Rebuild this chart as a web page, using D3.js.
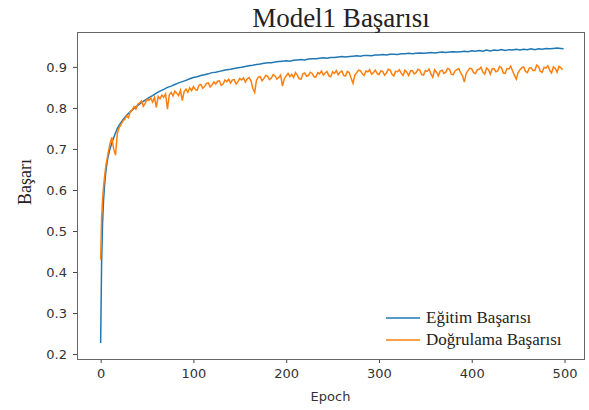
<!DOCTYPE html>
<html>
<head>
<meta charset="utf-8">
<script src="https://cdn.jsdelivr.net/npm/d3@7"></script>
<style>
  body { margin: 0; background: #fff; }
  .tick text { font-family: "DejaVu Sans", sans-serif; font-size: 13px; fill: #333; }
  .line { fill: none; stroke-width: 1.5px; }
</style>
</head>
<body>
<script>
// training curve (sampled every 4 epochs after warm-up)
const trainEpochs = [0, 1, 2, 3, 4, 5, 6, 7, 8, 10, 12, 14, 16, 18,
  20, 24, 28, 32, 36, 40, 44, 48, 52, 56, 60, 64, 68, 72, 76, 80, 84, 88, 92, 96,
  100, 104, 108, 112, 116, 120, 124, 128, 132, 136, 140, 144, 148, 152, 156, 160, 164, 168, 172, 176, 180, 184, 188, 192, 196,
  200, 204, 208, 212, 216, 220, 224, 228, 232, 236, 240, 244, 248, 252, 256, 260, 264, 268, 272, 276, 280, 284, 288, 292, 296,
  300, 304, 308, 312, 316, 320, 324, 328, 332, 336, 340, 344, 348, 352, 356, 360, 364, 368, 372, 376, 380, 384, 388, 392, 396,
  400, 404, 408, 412, 416, 420, 424, 428, 432, 436, 440, 444, 448, 452, 456, 460, 464, 468, 472, 476, 480, 484, 488, 492, 496, 499];

const trainAcc = [0.227, 0.42, 0.515, 0.57, 0.605, 0.632, 0.652, 0.668, 0.681, 0.700, 0.714, 0.727, 0.739, 0.750,
  0.758, 0.771, 0.782, 0.791, 0.799, 0.806, 0.813, 0.819, 0.825, 0.830, 0.836, 0.841, 0.845, 0.850, 0.853, 0.857, 0.861, 0.864, 0.867, 0.871,
  0.874, 0.876, 0.879, 0.881, 0.883, 0.886, 0.887, 0.889, 0.891, 0.893, 0.894, 0.896, 0.898, 0.899, 0.901, 0.903, 0.904, 0.906, 0.907, 0.909, 0.910, 0.910, 0.912, 0.913, 0.914,
  0.915, 0.914, 0.916, 0.917, 0.918, 0.917, 0.919, 0.920, 0.920, 0.921, 0.922, 0.921, 0.923, 0.923, 0.924, 0.925, 0.924, 0.925, 0.926, 0.927, 0.926, 0.928, 0.928, 0.927, 0.929,
  0.929, 0.930, 0.929, 0.931, 0.931, 0.930, 0.932, 0.932, 0.933, 0.932, 0.933, 0.934, 0.933, 0.934, 0.935, 0.934, 0.935, 0.936, 0.935, 0.936, 0.937, 0.936, 0.937, 0.938, 0.937,
  0.939, 0.938, 0.940, 0.938, 0.941, 0.939, 0.941, 0.940, 0.942, 0.940, 0.942, 0.941, 0.943, 0.941, 0.943, 0.942, 0.944, 0.942, 0.944, 0.943, 0.945, 0.944, 0.945, 0.946, 0.945, 0.944];

// validation curve (sampled every 2 epochs after warm-up)
const valEpochs = [0, 1, 2, 3, 4, 5, 6, 7, 8,
  10, 12, 14, 16, 18,
  20, 22, 24, 26, 28, 30, 32, 34, 36, 38, 40, 42, 44, 46, 48, 50, 52, 54, 56, 58,
  60, 62, 64, 66, 68, 70, 72, 74, 76, 78, 80, 82, 84, 86, 88, 90, 92, 94, 96, 98,
  100, 102, 104, 106, 108, 110, 112, 114, 116, 118, 120, 122, 124, 126, 128, 130, 132, 134, 136, 138,
  140, 142, 144, 146, 148, 150, 152, 154, 156, 158, 160, 162, 164, 166, 168, 170, 172, 174, 176, 178,
  180, 182, 184, 186, 188, 190, 192, 194, 196, 198, 200, 202, 204, 206, 208, 210, 212, 214, 216, 218,
  220, 222, 224, 226, 228, 230, 232, 234, 236, 238, 240, 242, 244, 246, 248, 250, 252, 254, 256, 258,
  260, 262, 264, 266, 268, 270, 272, 274, 276, 278, 280, 282, 284, 286, 288, 290, 292, 294, 296, 298,
  300, 302, 304, 306, 308, 310, 312, 314, 316, 318, 320, 322, 324, 326, 328, 330, 332, 334, 336, 338,
  340, 342, 344, 346, 348, 350, 352, 354, 356, 358, 360, 362, 364, 366, 368, 370, 372, 374, 376, 378,
  380, 382, 384, 386, 388, 390, 392, 394, 396, 398, 400, 402, 404, 406, 408, 410, 412, 414, 416, 418,
  420, 422, 424, 426, 428, 430, 432, 434, 436, 438, 440, 442, 444, 446, 448, 450, 452, 454, 456, 458,
  460, 462, 464, 466, 468, 470, 472, 474, 476, 478, 480, 482, 484, 486, 488, 490, 492, 494, 496, 498];

const valAcc = [0.43, 0.53, 0.575, 0.605, 0.628, 0.648, 0.664, 0.676, 0.69,
  0.712, 0.728, 0.700, 0.685, 0.738,
  0.752, 0.760, 0.768, 0.772, 0.781, 0.776, 0.792, 0.795, 0.803, 0.797, 0.809, 0.812, 0.817, 0.804, 0.811, 0.821, 0.818, 0.824, 0.814, 0.826,
  0.801, 0.828, 0.822, 0.831, 0.826, 0.834, 0.797, 0.832, 0.838, 0.829, 0.841, 0.836, 0.830, 0.843, 0.818, 0.840, 0.846, 0.838, 0.849, 0.842,
  0.852, 0.845, 0.843, 0.855, 0.857, 0.848, 0.852, 0.860, 0.861, 0.851, 0.856, 0.863, 0.858, 0.865, 0.866, 0.855, 0.858, 0.868, 0.864, 0.870,
  0.861, 0.868, 0.869, 0.858, 0.864, 0.872, 0.868, 0.873, 0.863, 0.871, 0.874, 0.866, 0.848, 0.838, 0.868, 0.875, 0.876, 0.866, 0.872, 0.879,
  0.877, 0.869, 0.873, 0.881, 0.878, 0.870, 0.874, 0.880, 0.853, 0.871, 0.878, 0.884, 0.876, 0.882, 0.874, 0.886, 0.880, 0.871, 0.870, 0.883,
  0.885, 0.877, 0.879, 0.887, 0.884, 0.876, 0.875, 0.886, 0.883, 0.890, 0.880, 0.885, 0.889, 0.878, 0.876, 0.888, 0.884, 0.891, 0.881, 0.887,
  0.890, 0.879, 0.878, 0.889, 0.886, 0.872, 0.860, 0.880, 0.886, 0.892, 0.891, 0.883, 0.879, 0.890, 0.888, 0.893, 0.882, 0.886, 0.892, 0.884,
  0.881, 0.890, 0.889, 0.880, 0.885, 0.894, 0.892, 0.882, 0.878, 0.889, 0.888, 0.893, 0.884, 0.879, 0.892, 0.887, 0.879, 0.890, 0.891, 0.883,
  0.886, 0.894, 0.892, 0.881, 0.880, 0.891, 0.889, 0.895, 0.883, 0.875, 0.893, 0.887, 0.878, 0.890, 0.892, 0.884, 0.887, 0.896, 0.894, 0.882,
  0.881, 0.890, 0.893, 0.896, 0.886, 0.878, 0.863, 0.884, 0.891, 0.897, 0.895, 0.886, 0.884, 0.893, 0.894, 0.899, 0.887, 0.882, 0.897, 0.893,
  0.882, 0.895, 0.896, 0.888, 0.890, 0.901, 0.898, 0.885, 0.884, 0.896, 0.895, 0.902, 0.890, 0.880, 0.870, 0.886, 0.893, 0.898, 0.900, 0.889,
  0.886, 0.897, 0.898, 0.891, 0.891, 0.904, 0.901, 0.889, 0.887, 0.899, 0.897, 0.903, 0.892, 0.885, 0.900, 0.896, 0.887, 0.901, 0.898, 0.893];

const xTicks = [0, 100, 200, 300, 400, 500];
const yTicks = [0.2, 0.3, 0.4, 0.5, 0.6, 0.7, 0.8, 0.9];
const seriesNames = ['Eğitim Başarısı', 'Doğrulama Başarısı'];
const colors = ['#1f77b4', '#ff7f0e'];

const width = 589, height = 410;
const frame = { left: 77, right: 584, top: 32, bottom: 359 };

const svg = d3.select('body')
  .append('svg')
  .attr('width', width)
  .attr('height', height);

const x = d3.scaleLinear().domain([-25.5, 521]).range([frame.left, frame.right]);
const y = d3.scaleLinear().domain([0.188, 0.985]).range([frame.bottom, frame.top]);

const series = [
  { epochs: trainEpochs, values: trainAcc },
  { epochs: valEpochs, values: valAcc }
];

series.forEach((s, k) => {
  const line = d3.line()
    .x((d, i) => x(s.epochs[i]))
    .y(d => y(d));
  svg.append('path')
    .datum(s.values)
    .attr('class', 'line')
    .attr('stroke', colors[k])
    .attr('d', line);
});

// axes
const xAxis = svg.append('g')
  .attr('transform', `translate(0,${frame.bottom})`)
  .call(d3.axisBottom(x).tickValues(xTicks).tickSize(4).tickPadding(6).tickFormat(d3.format('d')));
const yAxis = svg.append('g')
  .attr('transform', `translate(${frame.left},0)`)
  .call(d3.axisLeft(y).tickValues(yTicks).tickSize(4).tickPadding(6).tickFormat(d3.format('.1f')));
[xAxis, yAxis].forEach(g => {
  g.select('.domain').remove();
  g.selectAll('.tick line').attr('stroke', '#444');
});

svg.append('rect')
  .attr('x', frame.left + 0.5)
  .attr('y', frame.top + 0.5)
  .attr('width', frame.right - frame.left)
  .attr('height', frame.bottom - frame.top)
  .attr('fill', 'none')
  .attr('stroke', '#666')
  .attr('stroke-width', 1);

// title and labels
svg.append('text')
  .attr('x', 341).attr('y', 27)
  .attr('text-anchor', 'middle')
  .style('font-family', '"Liberation Serif", "Times New Roman", serif')
  .style('font-size', '27px')
  .attr('fill', '#222')
  .text('Model1 Başarısı');

svg.append('text')
  .attr('x', (frame.left + frame.right) / 2).attr('y', 401)
  .attr('text-anchor', 'middle')
  .style('font-family', '"DejaVu Sans", sans-serif')
  .style('font-size', '13px')
  .attr('fill', '#333')
  .text('Epoch');

svg.append('text')
  .attr('transform', 'translate(31,182) rotate(-90)')
  .attr('text-anchor', 'middle')
  .style('font-family', '"Liberation Serif", "Times New Roman", serif')
  .style('font-size', '18px')
  .attr('fill', '#222')
  .text('Başarı');

// legend
const legend = svg.append('g').attr('transform', 'translate(386,318)');
seriesNames.forEach((name, i) => {
  const row = legend.append('g').attr('transform', `translate(0,${i * 22})`);
  row.append('line')
    .attr('x1', 0).attr('x2', 34)
    .attr('stroke', colors[i])
    .attr('stroke-width', 1.5);
  row.append('text')
    .attr('x', 40).attr('y', 5)
    .style('font-family', '"Liberation Serif", "Times New Roman", serif')
    .style('font-size', '17px')
    .attr('fill', '#222')
    .text(name);
});
</script>
</body>
</html>
